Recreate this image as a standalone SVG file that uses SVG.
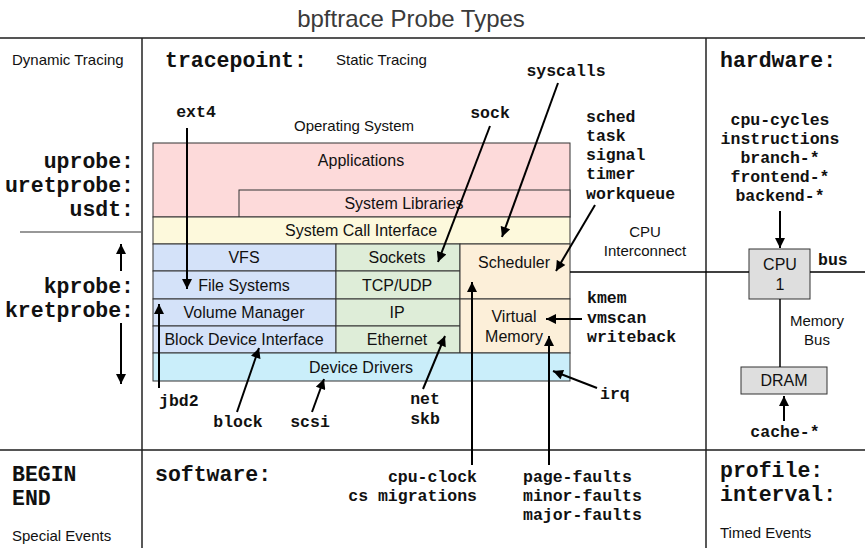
<svg xmlns="http://www.w3.org/2000/svg" width="865" height="548" viewBox="0 0 865 548">
<style>
.h{font-family:"Liberation Sans",Arial,sans-serif;fill:#111}
.h15{font-size:15px}
.h16{font-size:16px}
.m{font-family:"Liberation Mono","Courier New",monospace;font-weight:bold;fill:#111}
.m21{font-size:21.5px}
.m17{font-size:16.5px}
.c{text-anchor:middle}
.r{text-anchor:end}
.box{stroke:#333;stroke-width:1}
.grid{stroke:#555;stroke-width:2;fill:none}
.vgrid{stroke:#222;stroke-width:1.5;fill:none}
.arr{stroke:#000;stroke-width:2;fill:none;marker-end:url(#ah)}
.ln{stroke:#000;stroke-width:2;fill:none}
</style>
<defs>
<marker id="ah" viewBox="0 0 10 10" refX="10" refY="5" markerWidth="11" markerHeight="10" markerUnits="userSpaceOnUse" orient="auto">
<path d="M0,0 L10,5 L0,10 z" fill="#000"/>
</marker>
</defs>
<rect width="865" height="548" fill="#fff"/>

<g id="frame">
<text class="h c" x="411" y="27" font-size="24" style="fill:#3a3a3a">bpftrace Probe Types</text>
<line class="grid" x1="0" y1="38" x2="865" y2="38"/>
<line class="grid" x1="0" y1="450" x2="865" y2="450"/>
<line class="vgrid" x1="142" y1="38" x2="142" y2="548"/>
<line class="vgrid" x1="706" y1="38" x2="706" y2="548"/>
<line class="vgrid" x1="20" y1="232" x2="141" y2="232" style="stroke:#333;stroke-width:1.2"/>
</g>

<g id="dynamic">
<text class="h h15" x="12" y="65">Dynamic Tracing</text>
<text class="m m21 r" x="134" y="168">uprobe:</text>
<text class="m m21 r" x="134" y="192">uretprobe:</text>
<text class="m m21 r" x="134" y="216">usdt:</text>
<text class="m m21 r" x="134" y="293">kprobe:</text>
<text class="m m21 r" x="134" y="317">kretprobe:</text>
</g>

<g id="static">
<text class="m m21" x="165" y="67">tracepoint:</text>
<text class="h h15" x="336" y="65">Static Tracing</text>
<text class="h h15 c" x="354" y="131">Operating System</text>
</g>

<g id="os-stack">
<g id="applications">
<rect class="box" x="153" y="143" width="417" height="74" fill="#fddada"/>
<text class="h h16 c" x="361" y="166">Applications</text>
</g>
<g id="system-libraries">
<rect class="box" x="239" y="190" width="331" height="27" fill="#fddada"/>
<text class="h h16 c" x="404" y="209">System Libraries</text>
</g>
<g id="syscall-interface">
<rect class="box" x="153" y="217" width="417" height="27" fill="#fdf9dc"/>
<text class="h h16 c" x="361" y="236">System Call Interface</text>
</g>
<g id="vfs">
<rect class="box" x="153" y="244" width="183" height="27" fill="#d4e2f9"/>
<text class="h h16 c" x="244" y="263">VFS</text>
</g>
<g id="file-systems">
<rect class="box" x="153" y="271" width="183" height="28" fill="#d4e2f9"/>
<text class="h h16 c" x="244" y="291">File Systems</text>
</g>
<g id="volume-manager">
<rect class="box" x="153" y="299" width="183" height="27" fill="#d4e2f9"/>
<text class="h h16 c" x="244" y="318">Volume Manager</text>
</g>
<g id="block-device-interface">
<rect class="box" x="153" y="326" width="183" height="27" fill="#d4e2f9"/>
<text class="h h16 c" x="244" y="345">Block Device Interface</text>
</g>
<g id="sockets">
<rect class="box" x="336" y="244" width="124" height="27" fill="#deedd8"/>
<text class="h h16 c" x="397" y="263">Sockets</text>
</g>
<g id="tcp-udp">
<rect class="box" x="336" y="271" width="124" height="28" fill="#deedd8"/>
<text class="h h16 c" x="397" y="291">TCP/UDP</text>
</g>
<g id="ip">
<rect class="box" x="336" y="299" width="124" height="27" fill="#deedd8"/>
<text class="h h16 c" x="397" y="318">IP</text>
</g>
<g id="ethernet">
<rect class="box" x="336" y="326" width="124" height="27" fill="#deedd8"/>
<text class="h h16 c" x="397" y="345">Ethernet</text>
</g>
<g id="scheduler">
<rect class="box" x="460" y="244" width="110" height="55" fill="#fcefd9"/>
<text class="h h16 c" x="514" y="268">Scheduler</text>
</g>
<g id="virtual-memory">
<rect class="box" x="460" y="299" width="110" height="54" fill="#fcefd9"/>
<text class="h h16 c" x="514" y="322">Virtual</text>
<text class="h h16 c" x="514" y="342">Memory</text>
</g>
<g id="device-drivers">
<rect class="box" x="153" y="353" width="417" height="28" fill="#caeefa"/>
<text class="h h16 c" x="361" y="373">Device Drivers</text>
</g>
</g>

<g id="hardware">
<text class="m m21" x="720" y="67">hardware:</text>
<text class="m m17 c" x="780" y="125">cpu-cycles</text>
<text class="m m17 c" x="780" y="144">instructions</text>
<text class="m m17 c" x="780" y="163">branch-*</text>
<text class="m m17 c" x="780" y="182">frontend-*</text>
<text class="m m17 c" x="780" y="201">backend-*</text>
<text class="h h15 c" x="645" y="237">CPU</text>
<text class="h h15 c" x="645" y="256">Interconnect</text>
<text class="m m17" x="818" y="265">bus</text>
<text class="h h15 c" x="817" y="326">Memory</text>
<text class="h h15 c" x="817" y="345">Bus</text>
<text class="m m17 c" x="785" y="437">cache-*</text>
</g>
<g id="cpu">
<rect class="box" x="749" y="249" width="61" height="50" fill="#dedede"/>
<text class="h h16 c" x="780" y="270">CPU</text>
<text class="h h16 c" x="780" y="290">1</text>
</g>
<g id="dram">
<rect class="box" x="741" y="367" width="86" height="27" fill="#dedede"/>
<text class="h h16 c" x="784" y="386">DRAM</text>
</g>

<g id="probe-labels">
<text class="m m17 c" x="196" y="117">ext4</text>
<text class="m m17 c" x="490" y="118">sock</text>
<text class="m m17 c" x="566" y="76">syscalls</text>
<text class="m m17" x="586" y="122">sched</text>
<text class="m m17" x="586" y="141">task</text>
<text class="m m17" x="586" y="160">signal</text>
<text class="m m17" x="586" y="179">timer</text>
<text class="m m17" x="586" y="199">workqueue</text>
<text class="m m17" x="587" y="303">kmem</text>
<text class="m m17" x="587" y="323">vmscan</text>
<text class="m m17" x="587" y="342">writeback</text>
<text class="m m17" x="600" y="399">irq</text>
<text class="m m17" x="159" y="406">jbd2</text>
<text class="m m17 c" x="238" y="427">block</text>
<text class="m m17 c" x="310" y="427">scsi</text>
<text class="m m17 c" x="425" y="404">net</text>
<text class="m m17 c" x="425" y="424">skb</text>
</g>

<g id="special">
<text class="m m21" x="12" y="481">BEGIN</text>
<text class="m m21" x="12" y="505">END</text>
<text class="h h15" x="12" y="541">Special Events</text>
</g>
<g id="software">
<text class="m m21" x="155" y="481">software:</text>
<text class="m m17 r" x="477" y="482">cpu-clock</text>
<text class="m m17 r" x="477" y="501">cs migrations</text>
<text class="m m17" x="523" y="482">page-faults</text>
<text class="m m17" x="523" y="501">minor-faults</text>
<text class="m m17" x="523" y="520">major-faults</text>
</g>
<g id="timed">
<text class="m m21" x="720" y="477">profile:</text>
<text class="m m21" x="720" y="501">interval:</text>
<text class="h h15" x="720" y="538">Timed Events</text>
</g>

<g id="connectors">
<line class="arr" x1="121" y1="271" x2="121" y2="244"/>
<line class="arr" x1="121" y1="323" x2="121" y2="384"/>
<line class="arr" x1="187" y1="128" x2="187" y2="289"/>
<line class="arr" x1="490" y1="126" x2="438" y2="262"/>
<line class="arr" x1="558" y1="83" x2="502" y2="237"/>
<line class="arr" x1="595" y1="205" x2="556" y2="271"/>
<line class="arr" x1="582" y1="319" x2="546" y2="319"/>
<line class="arr" x1="597" y1="388" x2="553" y2="371"/>
<line class="arr" x1="159" y1="388" x2="159" y2="304"/>
<line class="arr" x1="237" y1="412" x2="259" y2="348"/>
<line class="arr" x1="312" y1="412" x2="324" y2="379"/>
<line class="arr" x1="423" y1="389" x2="445" y2="336"/>
<line class="arr" x1="472" y1="465" x2="472" y2="282"/>
<line class="arr" x1="549" y1="465" x2="549" y2="336"/>
<line class="arr" x1="780" y1="211" x2="780" y2="248"/>
<line class="arr" x1="784" y1="421" x2="784" y2="396"/>
<line class="ln" x1="570" y1="272" x2="749" y2="272" style="stroke-width:1.5"/>
<line class="ln" x1="810" y1="272" x2="865" y2="272" style="stroke-width:1.5"/>
<line class="ln" x1="780" y1="299" x2="780" y2="367" style="stroke-width:1.5"/>
</g>
</svg>
